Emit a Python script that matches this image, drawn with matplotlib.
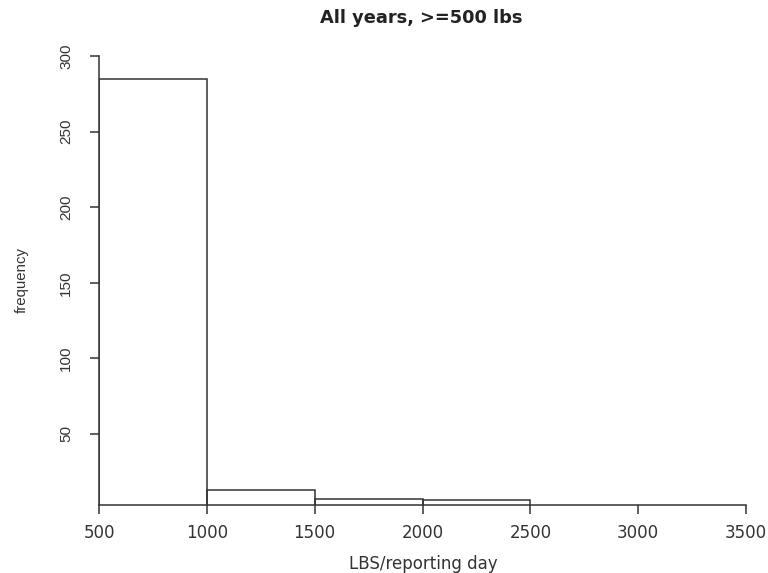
import matplotlib.pyplot as plt
import numpy as np

plt.rcParams['font.family'] = ['Liberation Sans', 'DejaVu Sans']

# histogram data
bin_edges = [500, 1000, 1500, 2000, 2500, 3000, 3500]
counts = [285, 13, 7, 6, 0, 0]
x_ticks = [500, 1000, 1500, 2000, 2500, 3000, 3500]
y_ticks = [50, 100, 150, 200, 250, 300]

fig = plt.figure(figsize=(7.68, 5.73), dpi=100, facecolor='white')
ax = fig.add_axes([99/768, 1-505/573, 647/768, 449/573])

lc = '#333333'
widths = np.diff(bin_edges)
ax.bar(bin_edges[:-1], counts, width=widths, align='edge', fill=False,
       edgecolor=lc, linewidth=1.1)

ax.set_xlim(500, 3500)
ax.set_ylim(3, 300)
ax.set_xticks(x_ticks)
ax.set_yticks(y_ticks)

for s in ['top', 'right']:
    ax.spines[s].set_visible(False)
ax.spines['bottom'].set_bounds(500, 3500)
for s in ['left', 'bottom']:
    ax.spines[s].set_color(lc)
    ax.spines[s].set_linewidth(1.1)

ax.tick_params(axis='both', direction='out', length=6.5, width=1.1,
               color=lc, labelcolor='#333333')
ax.tick_params(axis='x', pad=7, labelsize=12)
ax.tick_params(axis='y', pad=12, labelsize=11, labelrotation=90)
for lab in ax.get_xticklabels():
    lab.set_family('DejaVu Sans')
for lab in ax.get_yticklabels():
    lab.set_va('center')

fig.text(421/768, 1-18/573, 'All years, >=500 lbs', ha='center', va='center',
         fontsize=12.8, fontweight='bold', color='#222222', family='DejaVu Sans')
fig.text(423/768, 1-564/573, 'LBS/reporting day', ha='center', va='center',
         fontsize=12, color='#333333', family='DejaVu Sans')
fig.text(22/768, 1-280/573, 'frequency', ha='center', va='center',
         rotation=90, fontsize=10.8, color='#333333')

fig.savefig('out.png', dpi=100)
